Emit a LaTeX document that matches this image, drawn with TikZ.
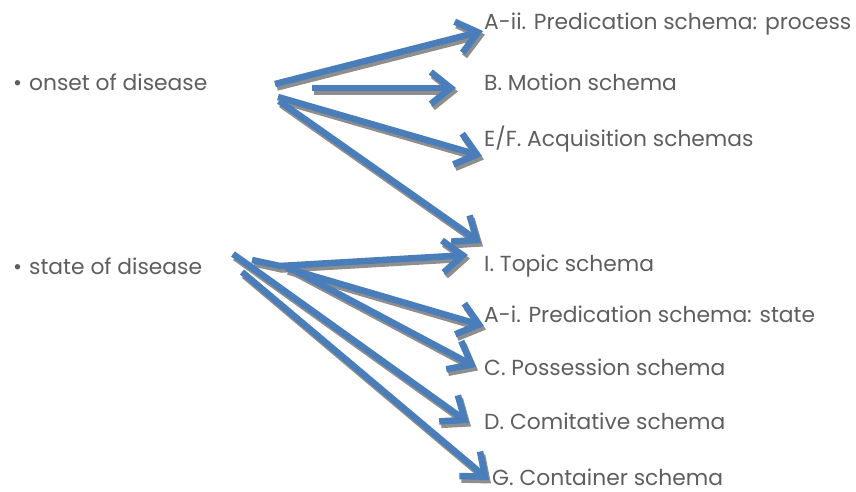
\documentclass[tikz,border=0pt]{standalone}
\usepackage{fontspec}
\setmainfont{Poppins}
\usetikzlibrary{arrows.meta}
\definecolor{txt}{HTML}{5E5E5E}
\definecolor{arrblue}{HTML}{4A7EBB}
\definecolor{shad}{HTML}{8E8E8E}
\tikzset{
  lbl/.style={anchor=west, inner sep=0pt, text=txt, font=\fontsize{21.8}{25}\selectfont},
  arrbase/.style={line width=6.5pt, -{Straight Barb[length=20pt,width=32pt]}},
  arr/.style={arrbase, draw=arrblue},
  shadarr/.style={arrbase, draw=shad}
}
\newcommand\myarrowset[1]{%
  \draw[#1] (s1) -- (t1);
  \draw[#1] (s2) -- (t2);
  \draw[#1] (s3) -- (t3);
  \draw[#1] (s4) -- (t4);
  \draw[#1] (s5a) -- (s5) -- (t5);
  \draw[#1] (s6) -- (t6);
  \draw[#1] (s7) -- (t7);
  \draw[#1] (s8) -- (t8);
  \draw[#1] (s9) -- (t9);
}
\begin{document}
\begin{tikzpicture}[x=1pt,y=-1pt]
\useasboundingbox (0,0) rectangle (856,492);
% left labels
\node[lbl] (onset) at (13,82) {•\hspace{7pt}onset of disease};
\node[lbl] (state) at (13,266) {•\hspace{7pt}state of disease};
% right labels
\node[lbl] (a2) at (484,24) {A-ii. Predication schema: process};
\node[lbl] (b) at (484,82) {B. Motion schema};
\node[lbl] (ef) at (484,139) {E/F. Acquisition schemas};
\node[lbl] (i) at (484,266) {I. Topic schema};
\node[lbl] (a1) at (484,314) {A-i. Predication schema: state};
\node[lbl] (c) at (484,367) {C. Possession schema};
\node[lbl] (d) at (484,421) {D. Comitative schema};
\node[lbl] (g) at (492,477) {G. Container schema};
% arrow start points
\coordinate (s1) at (275,84);
\coordinate (s2) at (312,88);
\coordinate (s3) at (278,97);
\coordinate (s4) at (279,101);
\coordinate (s5a) at (252,260);
\coordinate (s5) at (280,266);
\coordinate (s6) at (286,268);
\coordinate (s7) at (290,268);
\coordinate (s8) at (233,254);
\coordinate (s9) at (242,272);
% arrow tips
\coordinate (t1) at (483,31);
\coordinate (t2) at (456,88);
\coordinate (t3) at (482,156);
\coordinate (t4) at (481,243);
\coordinate (t5) at (468,255);
\coordinate (t6) at (484,326);
\coordinate (t7) at (476,367);
\coordinate (t8) at (469,423);
\coordinate (t9) at (489,480);
% shadows
\begin{scope}[transform canvas={shift={(2pt,-3.5pt)}}]
\myarrowset{shadarr}
\end{scope}
% arrows
\myarrowset{arr}
\end{tikzpicture}
\end{document}
